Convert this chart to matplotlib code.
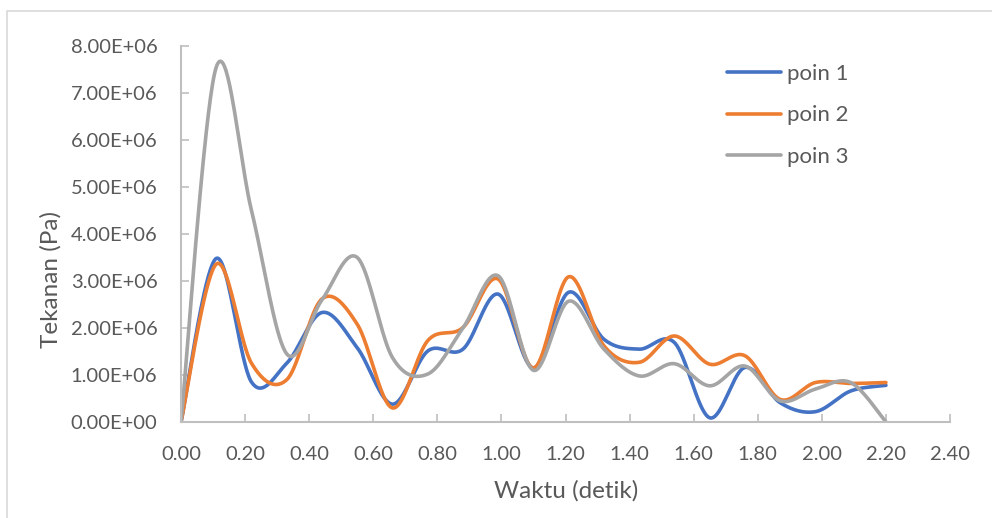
import numpy as np
import matplotlib
matplotlib.use("Agg")
import matplotlib.pyplot as plt
from matplotlib.patches import Rectangle

# ---- data ----
waktu = [0.00, 0.11, 0.22, 0.33, 0.44, 0.55, 0.66, 0.77, 0.88, 0.99, 1.10,
         1.21, 1.32, 1.43, 1.54, 1.65, 1.76, 1.87, 1.98, 2.09, 2.20]
poin1 = [0.0, 3.48, 0.85, 1.25, 2.33, 1.58, 0.38, 1.51, 1.55, 2.72, 1.15,
         2.76, 1.76, 1.55, 1.69, 0.09, 1.16, 0.41, 0.22, 0.66, 0.78]
poin2 = [0.0, 3.36, 1.25, 0.90, 2.62, 2.08, 0.30, 1.73, 2.01, 3.04, 1.15,
         3.09, 1.62, 1.27, 1.83, 1.23, 1.41, 0.48, 0.84, 0.82, 0.84]
poin3 = [0.0, 7.55, 4.50, 1.45, 2.60, 3.50, 1.37, 1.02, 2.00, 3.11, 1.10,
         2.57, 1.55, 0.98, 1.24, 0.77, 1.19, 0.45, 0.70, 0.84, 0.0]
series_names = ["poin 1", "poin 2", "poin 3"]
series_vals = [poin1, poin2, poin3]
colors = ["#4472C4", "#ED7D31", "#A5A5A5"]
xticks = [0.0, 0.2, 0.4, 0.6, 0.8, 1.0, 1.2, 1.4, 1.6, 1.8, 2.0, 2.2, 2.4]
yticks = [0, 1e6, 2e6, 3e6, 4e6, 5e6, 6e6, 7e6, 8e6]


def smooth(x, y, n=40):
    x = np.asarray(x, float)
    y = np.asarray(y, float)
    P = np.column_stack([x, y])
    P = np.vstack([P[0], P, P[-1]])
    out = []
    t = np.linspace(0, 1, n)[:, None]
    for i in range(1, len(P) - 2):
        p0, p1, p2, p3 = P[i - 1], P[i], P[i + 1], P[i + 2]
        c1 = p1 + (p2 - p0) / 6.0
        c2 = p2 - (p3 - p1) / 6.0
        seg = ((1 - t) ** 3) * p1 + 3 * ((1 - t) ** 2) * t * c1 + 3 * (1 - t) * t ** 2 * c2 + t ** 3 * p2
        out.append(seg if i == 1 else seg[1:])
    out = np.vstack(out)
    return out[:, 0], out[:, 1]


plt.rcParams['font.family'] = ['Lato', 'DejaVu Sans']
txt = "#595959"
axc = "#BFBFBF"

fig = plt.figure(figsize=(9.92, 5.18), dpi=100)
ax = fig.add_axes([181 / 992, 1 - 422 / 518, (950 - 181) / 992, (422 - 46) / 518])

for name, vals, c in zip(series_names, series_vals, colors):
    xs, ys = smooth(waktu, np.array(vals) * 1e6)
    ax.plot(xs, ys, color=c, lw=2.6, label=name, solid_capstyle='round', solid_joinstyle='round')

ax.set_xlim(0, 2.4)
ax.set_ylim(0, 8e6)
ax.set_xticks(xticks)
ax.set_xticklabels([f"{v:.2f}" for v in xticks])
ax.set_yticks(yticks)
ax.set_yticklabels([f"{v/1e6:.2f}E+{6 if v else 0:02d}" for v in yticks])
for s in ['top', 'right']:
    ax.spines[s].set_visible(False)
for s in ['left', 'bottom']:
    ax.spines[s].set_color(axc)
    ax.spines[s].set_linewidth(1.5)
ax.tick_params(axis='both', direction='in', length=6, width=1.2, color=axc,
               labelcolor=txt, labelsize=14.5)
ax.tick_params(axis='x', pad=17)
ax.tick_params(axis='y', pad=17)

fig.text(51 / 992, 1 - 279 / 518, "Tekanan (Pa)", rotation=90, ha='center', va='center',
         fontsize=17.5, color=txt)
fig.text(566 / 992, 1 - 491 / 518, "Waktu (detik)", ha='center', va='center',
         fontsize=17.5, color=txt)

leg = ax.legend(loc='upper left', bbox_to_anchor=(718 / 992, 1 - 55 / 518),
                bbox_transform=fig.transFigure, frameon=False, fontsize=16,
                handlelength=2.45, handletextpad=0.25, labelspacing=0.97, borderaxespad=0)
for t in leg.get_texts():
    t.set_color(txt)

fig.patches.append(Rectangle((7 / 992, -0.1), 1.2, 1 - 10.5 / 518 + 0.1, transform=fig.transFigure,
                             fill=False, edgecolor="#D9D9D9", lw=1.2, zorder=0))

fig.savefig("out.png", dpi=100)
